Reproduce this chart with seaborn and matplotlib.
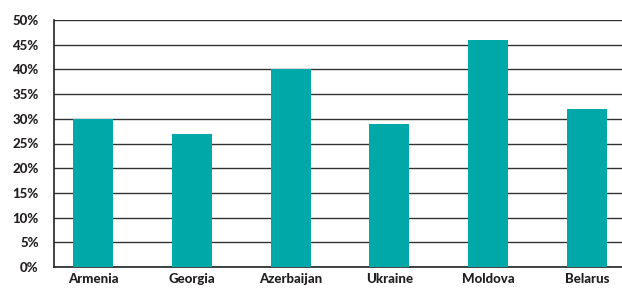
import matplotlib
matplotlib.use("Agg")
import matplotlib.pyplot as plt
import seaborn as sns
import pandas as pd
from matplotlib.ticker import FuncFormatter, MultipleLocator

countries = ["Armenia", "Georgia", "Azerbaijan", "Ukraine", "Moldova", "Belarus"]
values = [30, 27, 40, 29, 46, 32]

sns.set_theme(style="white")
plt.rcParams['font.family'] = ['Lato', 'DejaVu Sans']

df = pd.DataFrame({"country": countries, "value": values})

fig = plt.figure(figsize=(6.22, 2.88), dpi=100)
ax = fig.add_axes([54/622, 1 - 267/288, 568/622, 247/288])
sns.barplot(data=df, x="country", y="value", color="#00A8A8", width=0.405,
            saturation=1, linewidth=0, ax=ax, zorder=3)
ax.set_ylim(0, 50)
ax.set_xlim(-0.395, 5.355)
ax.yaxis.set_major_locator(MultipleLocator(5))
ax.yaxis.set_major_formatter(FuncFormatter(lambda v, p: f"{int(v)}%"))
ax.grid(axis="y", color="#333333", linewidth=1, zorder=0)
ax.set_axisbelow(True)
for s in ["top", "right"]:
    ax.spines[s].set_visible(False)
for s in ["left", "bottom"]:
    ax.spines[s].set_color("#222222")
    ax.spines[s].set_linewidth(1.2)
ax.set_xlabel("")
ax.set_ylabel("")
ax.tick_params(axis="both", length=0, labelsize=9.5, colors="#231f20")
ax.tick_params(axis="y", pad=11)
ax.tick_params(axis="x", pad=4)
for lbl in ax.get_xticklabels() + ax.get_yticklabels():
    lbl.set_fontweight("black")
fig.savefig("out.png", dpi=100)
